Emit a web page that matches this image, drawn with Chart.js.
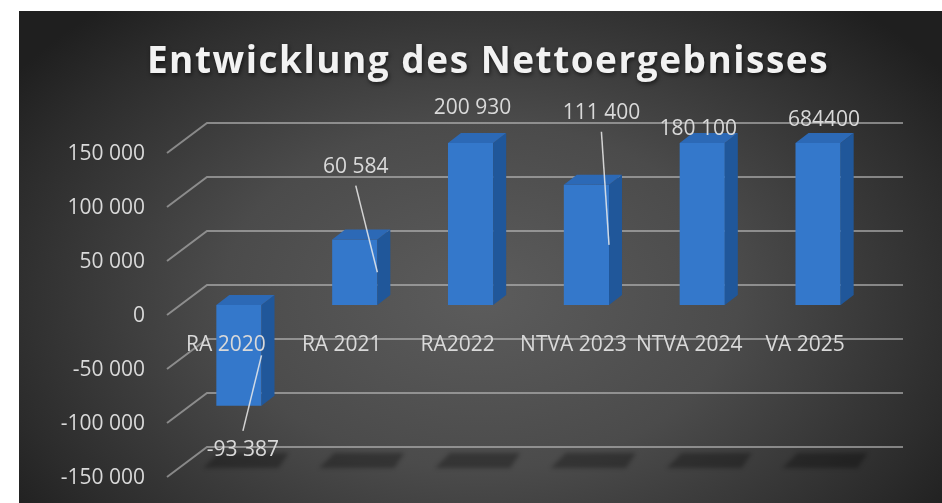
<!DOCTYPE html>
<html lang="de">
<head>
<meta charset="utf-8">
<script src="https://cdn.jsdelivr.net/npm/chart.js@4"></script>
<style>
  body { margin: 0; background: #fff; }
  #panel {
    position: absolute; left: 19px; top: 11px; width: 923px; height: 492px;
    background: radial-gradient(ellipse 62% 78% at 50% 58%, #5c5c5c 0%, #4b4b4b 45%, #2c2c2c 85%, #1f1f1f 100%);
  }
</style>
</head>
<body>
<div id="panel"><canvas id="chart"></canvas></div>
<script>
const titel = 'Entwicklung des Nettoergebnisses';
const kategorien = ['RA 2020', 'RA 2021', 'RA2022', 'NTVA 2023', 'NTVA 2024', 'VA 2025'];
const werte = [-93387, 60584, 200930, 111400, 180100, 684400];
const wertTexte = ['-93 387', '60 584', '200 930', '111 400', '180 100', '684400'];

// Beschriftungen wurden im Original von Hand verschoben (dx, dy ab Balkenende)
const labelVersatz = [[4, 44], [1, -73], [2, -35], [15, -72], [-4, -14], [6, -23]];
const mitLinie = [true, true, false, true, false, false];

const tiefeX = 13, tiefeY = 10;
const textFarbe = '#d9d9d9';
const schrift = '"Open Sans", sans-serif';

function format(v) {
    const s = Math.abs(v).toString().replace(/\B(?=(\d{3})+(?!\d))/g, ' ');
    return (v < 0 ? '-' : '') + s;
}

function poly(ctx, pts) {
    ctx.beginPath();
    ctx.moveTo(pts[0][0], pts[0][1]);
    pts.slice(1).forEach(p => ctx.lineTo(p[0], p[1]));
    ctx.closePath();
    ctx.fill();
}

const dreiD = {
    id: 'dreiD',
    beforeDatasetsDraw(chart) {
        const { ctx, chartArea: a, scales: { y } } = chart;
        ctx.save();
        // Gitterlinien an der Rückwand
        ctx.strokeStyle = 'rgba(190,190,190,0.6)';
        ctx.lineWidth = 2;
        y.ticks.forEach(t => {
            const py = y.getPixelForValue(t.value);
            ctx.beginPath();
            ctx.moveTo(a.left - 14, py + 10);
            ctx.lineTo(a.left + 26, py - 20);
            ctx.lineTo(a.right + 27, py - 20);
            ctx.stroke();
        });
        // Schatten auf dem Boden
        ctx.fillStyle = 'rgba(0,0,0,0.3)';
        ctx.filter = 'blur(2px)';
        chart.getDatasetMeta(0).data.forEach(bar => {
            const xl = bar.x - bar.width / 2, xr = bar.x + bar.width / 2, yb = a.bottom;
            poly(ctx, [[xl + 2, yb - 14], [xr + 27, yb - 14], [xr + 17, yb + 1], [xl - 13, yb + 1]]);
        });
        ctx.restore();
    },
    afterDatasetsDraw(chart) {
        const { ctx, chartArea: a, scales: { y } } = chart;
        const null0 = y.getPixelForValue(0);
        ctx.save();
        chart.getDatasetMeta(0).data.forEach((bar, i) => {
            const xl = bar.x - bar.width / 2, xr = bar.x + bar.width / 2;
            const yEnde = Math.min(Math.max(bar.y, a.top), a.bottom);
            const oben = Math.min(yEnde, null0), unten = Math.max(yEnde, null0);
            ctx.fillStyle = '#20579a';
            poly(ctx, [[xr, oben], [xr + tiefeX, oben - tiefeY], [xr + tiefeX, unten - tiefeY], [xr, unten]]);
            ctx.fillStyle = '#2c69b6';
            poly(ctx, [[xl, oben], [xl + tiefeX, oben - tiefeY], [xr + tiefeX, oben - tiefeY], [xr, oben]]);
        });

        ctx.font = '21px ' + schrift;
        ctx.fillStyle = textFarbe;
        ctx.textAlign = 'center';
        ctx.textBaseline = 'middle';
        chart.getDatasetMeta(0).data.forEach((bar, i) => {
            // Kategorien
            ctx.fillText(kategorien[i], bar.x - 13, null0 + 40);
            // Datenbeschriftungen
            const yEnde = Math.min(Math.max(bar.y, a.top), a.bottom);
            const lx = bar.x + labelVersatz[i][0], ly = yEnde + labelVersatz[i][1];
            ctx.fillText(wertTexte[i], lx, ly);
            if (mitLinie[i]) {
                const xr = bar.x + bar.width / 2;
                ctx.strokeStyle = 'rgba(235,235,235,0.85)';
                ctx.lineWidth = 1.5;
                ctx.beginPath();
                ctx.moveTo(lx, ly + (labelVersatz[i][1] > 0 ? -19 : 19));
                ctx.lineTo(xr, (yEnde + null0) / 2);
                ctx.stroke();
            }
        });
        ctx.restore();
    },
    afterDraw(chart) {
        // Titel mit Sperrung und Schatten
        const ctx = chart.ctx;
        ctx.save();
        ctx.font = 'bold 37px ' + schrift;
        ctx.letterSpacing = '1.5px';
        ctx.fillStyle = '#f2f2f2';
        ctx.textAlign = 'center';
        ctx.textBaseline = 'alphabetic';
        ctx.shadowColor = 'rgba(0,0,0,0.6)';
        ctx.shadowBlur = 4;
        ctx.shadowOffsetX = 1;
        ctx.shadowOffsetY = 2;
        ctx.fillText(titel, 469, 62);
        ctx.restore();
    }
};

new Chart(document.getElementById('chart'), {
    type: 'bar',
    data: {
        labels: kategorien,
        datasets: [{
            data: werte,
            backgroundColor: '#3478cb',
            barPercentage: 0.39,
            categoryPercentage: 1,
            clip: 0
        }]
    },
    options: {
        responsive: true,
        maintainAspectRatio: false,
        animation: false,
        layout: { padding: { left: 42, right: 66, bottom: 36, top: 132 } },
        plugins: {
            legend: { display: false },
            tooltip: { enabled: false },
            title: { display: false }
        },
        scales: {
            x: { display: false },
            y: {
                min: -150000,
                max: 150000,
                grid: { display: false, drawTicks: true, tickLength: 36 },
                border: { display: false },
                afterFit: s => { s.width = 120; },
                ticks: {
                    stepSize: 50000,
                    padding: 0,
                    labelOffset: 11,
                    color: textFarbe,
                    font: { family: schrift, size: 21 },
                    callback: v => format(v)
                }
            }
        }
    },
    plugins: [dreiD]
});
</script>
</body>
</html>
